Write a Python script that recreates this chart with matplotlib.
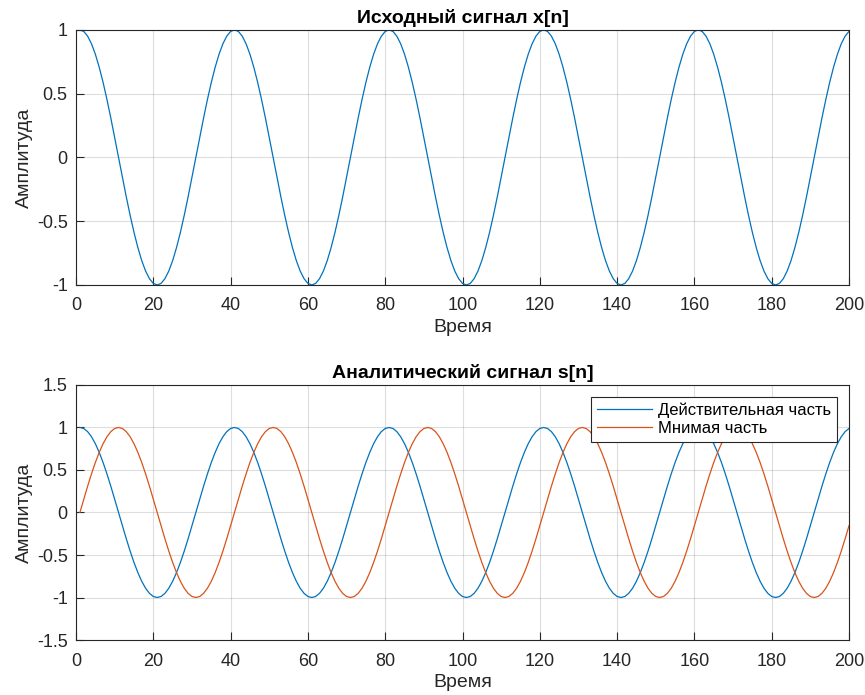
import matplotlib
matplotlib.use('Agg')
import matplotlib.pyplot as plt
import numpy as np

# One period (40 samples) of the signal; the plot shows 5 periods
real_period = [1.000, 0.988, 0.951, 0.891, 0.809, 0.707, 0.588, 0.454, 0.309, 0.156,
               0.000, -0.156, -0.309, -0.454, -0.588, -0.707, -0.809, -0.891, -0.951, -0.988,
               -1.000, -0.988, -0.951, -0.891, -0.809, -0.707, -0.588, -0.454, -0.309, -0.156,
               0.000, 0.156, 0.309, 0.454, 0.588, 0.707, 0.809, 0.891, 0.951, 0.988]
imag_period = [0.000, 0.156, 0.309, 0.454, 0.588, 0.707, 0.809, 0.891, 0.951, 0.988,
               1.000, 0.988, 0.951, 0.891, 0.809, 0.707, 0.588, 0.454, 0.309, 0.156,
               0.000, -0.156, -0.309, -0.454, -0.588, -0.707, -0.809, -0.891, -0.951, -0.988,
               -1.000, -0.988, -0.951, -0.891, -0.809, -0.707, -0.588, -0.454, -0.309, -0.156]
n = list(range(1, 201))
x_signal = real_period * 5
s_real = real_period * 5
s_imag = imag_period * 5

x_ticks = [0, 20, 40, 60, 80, 100, 120, 140, 160, 180, 200]
y_ticks_top = [-1, -0.5, 0, 0.5, 1]
y_labels_top = ['-1', '-0.5', '0', '0.5', '1']
y_ticks_bot = [-1.5, -1, -0.5, 0, 0.5, 1, 1.5]
y_labels_bot = ['-1.5', '-1', '-0.5', '0', '0.5', '1', '1.5']

blue = '#0072BD'
orange = '#D95319'

plt.rcParams['font.family'] = ['Liberation Sans', 'DejaVu Sans']

fig = plt.figure(figsize=(8.65, 6.95), dpi=100)
ax1 = fig.add_axes([0.0879, 0.590, 0.8936, 0.367])
ax2 = fig.add_axes([0.0879, 0.0791, 0.8936, 0.367])


def style(ax, yticks, ylabels, ylim):
    ax.set_xlim(0, 200)
    ax.set_ylim(*ylim)
    ax.set_xticks(x_ticks)
    ax.set_xticklabels([str(t) for t in x_ticks])
    ax.set_yticks(yticks)
    ax.set_yticklabels(ylabels)
    ax.grid(True, color='#262626', alpha=0.15, linewidth=0.8)
    ax.set_axisbelow(True)
    ax.tick_params(direction='in', length=6, width=0.8, colors='#262626',
                   labelsize=13, labelcolor='#262626')
    ax.tick_params(axis='x', pad=9)
    ax.tick_params(axis='y', pad=6)
    for sp in ax.spines.values():
        sp.set_color('#262626')
        sp.set_linewidth(0.8)
    ax.set_xlabel('Время', fontsize=14, color='#262626', labelpad=3)
    ax.set_ylabel('Амплитуда', fontsize=14, color='#262626', labelpad=3)


ax1.plot(n, x_signal, color=blue, linewidth=0.9)
style(ax1, y_ticks_top, y_labels_top, (-1, 1))
ax1.set_title('Исходный сигнал x[n]', fontsize=14, fontweight='bold', pad=5)

ax2.plot(n, s_real, color=blue, linewidth=0.9, label='Действительная часть')
ax2.plot(n, s_imag, color=orange, linewidth=0.9, label='Мнимая часть')
style(ax2, y_ticks_bot, y_labels_bot, (-1.5, 1.5))
ax2.set_title('Аналитический сигнал s[n]', fontsize=14, fontweight='bold', pad=5)
leg = ax2.legend(loc='upper right', fontsize=12, fancybox=False, framealpha=1,
                 edgecolor='#262626', borderaxespad=0.7, handlelength=3.3,
                 labelspacing=0.2, borderpad=0.35, handletextpad=0.4)
leg.get_frame().set_linewidth(0.8)

fig.savefig('out.png', dpi=100)
